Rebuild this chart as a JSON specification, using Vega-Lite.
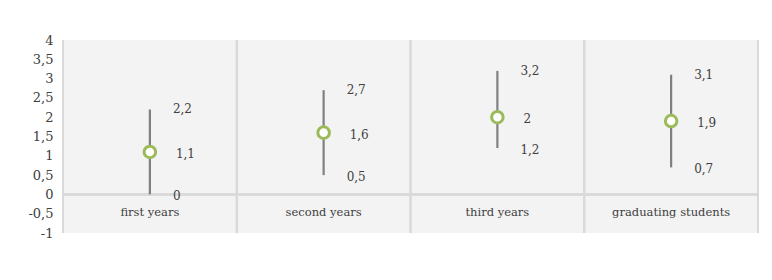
{
  "$schema": "https://vega.github.io/schema/vega-lite/v6.json",
  "width": 695,
  "height": 193,
  "autosize": {"type": "none"},
  "padding": {"left": 63, "top": 40, "right": 14, "bottom": 47},
  "background": "white",
  "config": {
    "view": {"fill": "#f3f3f3", "stroke": null},
    "axis": {"labelOverlap": false},
    "axisY": {"labelOverlap": false, "labelFlush": false},
    "locale": {"number": {"decimal": ",", "thousands": ".", "grouping": [3], "currency": ["", ""], "minus": "-"}},
    "font": "DejaVu Serif"
  },
  "data": {"values": [
    {"group": "first years", "low": 0, "mean": 1.1, "high": 2.2},
    {"group": "second years", "low": 0.5, "mean": 1.6, "high": 2.7},
    {"group": "third years", "low": 1.2, "mean": 2, "high": 3.2},
    {"group": "graduating students", "low": 0.7, "mean": 1.9, "high": 3.1}
  ]},
  "encoding": {
    "x": {
      "field": "group", "type": "nominal", "sort": null,
      "scale": {"type": "band", "paddingInner": 0, "paddingOuter": 0},
      "axis": {"title": null, "orient": "bottom", "offset": -38.6, "domain": false, "ticks": false, "tickSize": 0, "grid": false, "labelPadding": 12, "labelAngle": 0, "labelFontSize": 11.5, "labelColor": "#404040", "labelBaseline": "top"}
    },
    "y": {
      "field": "low", "type": "quantitative",
      "scale": {"domain": [-1, 4], "nice": false, "zero": false},
      "axis": {"title": null, "values": [-1, -0.5, 0, 0.5, 1, 1.5, 2, 2.5, 3, 3.5, 4], "format": ".1~f", "domain": false, "ticks": false, "grid": false, "labelOverlap": false, "labelFlush": false, "labelPadding": 10, "labelFontSize": 13, "labelColor": "#404040"}
    }
  },
  "layer": [
    {
      "mark": {"type": "rule", "color": "#d9d9d9", "strokeWidth": 2},
      "encoding": {"x": {"field": "group", "type": "nominal", "sort": null, "bandPosition": 0}, "y": null}
    },
    {
      "mark": {"type": "rule", "color": "#d9d9d9", "strokeWidth": 2},
      "encoding": {"x": {"field": "group", "type": "nominal", "sort": null, "bandPosition": 1}, "y": null}
    },
    {
      "mark": {"type": "rule", "color": "#d9d9d9", "strokeWidth": 2},
      "encoding": {"x": null, "y": {"datum": 0, "type": "quantitative"}}
    },
    {
      "mark": {"type": "rule", "color": "#808080", "strokeWidth": 2.2},
      "encoding": {"y2": {"field": "high"}}
    },
    {
      "mark": {"type": "point", "shape": "circle", "filled": false, "fill": "white", "fillOpacity": 1, "stroke": "#9bbb59", "strokeWidth": 3, "size": 133, "opacity": 1},
      "encoding": {"y": {"field": "mean", "type": "quantitative"}}
    },
    {
      "mark": {"type": "text", "align": "left", "baseline": "middle", "dx": 23, "fontSize": 12, "color": "#404040"},
      "encoding": {"y": {"field": "high", "type": "quantitative"}, "text": {"field": "high", "type": "quantitative", "format": ".1~f"}}
    },
    {
      "mark": {"type": "text", "align": "left", "baseline": "middle", "dx": 26, "dy": 2, "fontSize": 12, "color": "#404040"},
      "encoding": {"y": {"field": "mean", "type": "quantitative"}, "text": {"field": "mean", "type": "quantitative", "format": ".1~f"}}
    },
    {
      "mark": {"type": "text", "align": "left", "baseline": "middle", "dx": 23, "dy": 2, "fontSize": 12, "color": "#404040"},
      "encoding": {"y": {"field": "low", "type": "quantitative"}, "text": {"field": "low", "type": "quantitative", "format": ".1~f"}}
    }
  ]
}
